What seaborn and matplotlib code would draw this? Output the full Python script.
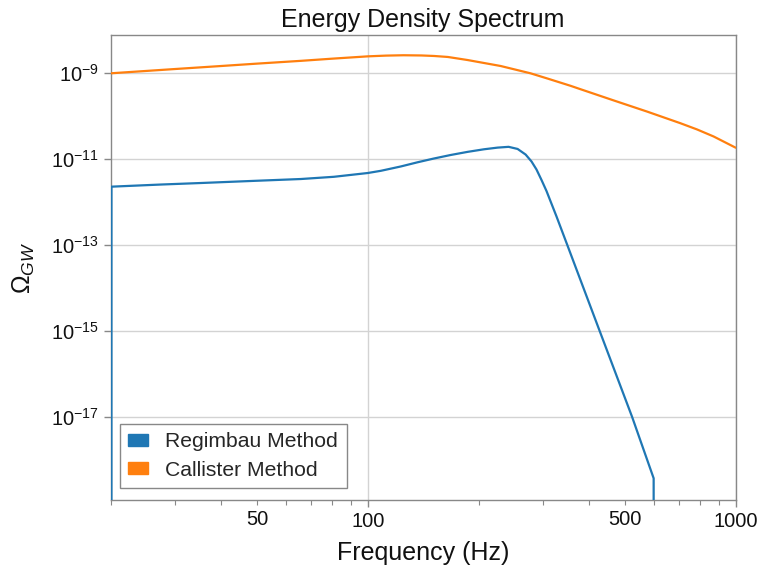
import numpy as np
import pandas as pd
import matplotlib
matplotlib.use("Agg")
import matplotlib.pyplot as plt
from matplotlib.patches import Patch
from matplotlib.ticker import FixedLocator, FixedFormatter, NullLocator, LogFormatterSciNotation
import seaborn as sns

# ---- data ----
regimbau_freq = [20.1, 20.1, 27.4, 35.2, 48.1, 65.8, 80.9, 100, 108.5, 122.9, 136.4, 151.0,
                 168.0, 186.8, 206.9, 225.3, 241.4, 255.4, 268.5, 278.6, 287.4, 296.6,
                 306.0, 325.8, 349.4, 427.5, 522.9, 598.4, 598.6]
regimbau_omega = [0, 2.31e-12, 2.59e-12, 2.81e-12, 3.13e-12, 3.48e-12, 3.92e-12, 4.80e-12,
                  5.40e-12, 6.81e-12, 8.51e-12, 1.04e-11, 1.26e-11, 1.49e-11, 1.71e-11,
                  1.87e-11, 1.95e-11, 1.74e-11, 1.29e-11, 8.9e-12, 5.8e-12, 3.3e-12,
                  1.83e-12, 4.68e-13, 9.6e-14, 9.8e-16, 1.02e-17, 3.81e-19, 0]

callister_freq = [20, 30, 40, 50, 65.8, 80, 100, 112, 125, 140, 151.4, 165, 186.5, 229.6,
                  276.9, 307.4, 355.5, 378.5, 466, 574, 707, 785, 870.6, 1000]
callister_omega = [1.0e-9, 1.26e-9, 1.48e-9, 1.68e-9, 1.95e-9, 2.19e-9, 2.48e-9, 2.58e-9,
                   2.63e-9, 2.60e-9, 2.53e-9, 2.40e-9, 2.04e-9, 1.48e-9, 1.0e-9, 7.59e-10,
                   5.13e-10, 4.27e-10, 2.34e-10, 1.29e-10, 6.92e-11, 4.95e-11, 3.40e-11,
                   1.86e-11]

series_names = ["Regimbau Method", "Callister Method"]
series_colors = ["#1f77b4", "#ff7f0e"]

x_major = [100, 1000]
x_minor = [20, 30, 40, 50, 60, 70, 80, 90, 200, 300, 400, 500, 600, 700, 800, 900]
x_minor_labels = ["", "", "", "50", "", "", "", "", "", "", "", "500", "", "", "", ""]
y_ticks = [1e-17, 1e-15, 1e-13, 1e-11, 1e-9]

# ---- build table ----
df = pd.concat([
    pd.DataFrame({"f": regimbau_freq, "omega": regimbau_omega, "method": series_names[0]}),
    pd.DataFrame({"f": callister_freq, "omega": callister_omega, "method": series_names[1]}),
], ignore_index=True)

sns.set_theme(style="ticks")
plt.rcParams["font.family"] = ["Liberation Sans", "DejaVu Sans"]
plt.rcParams["mathtext.fontset"] = "custom"
plt.rcParams["mathtext.rm"] = "Liberation Sans"
plt.rcParams["mathtext.it"] = "Liberation Sans:italic"
plt.rcParams["mathtext.bf"] = "Liberation Sans:bold"
plt.rcParams["axes.unicode_minus"] = True

fig = plt.figure(figsize=(7.59, 5.71), dpi=100)
ax = fig.add_axes([0.1458, 0.1243, 0.8235, 0.8144])

sns.lineplot(data=df, x="f", y="omega", hue="method", palette=series_colors,
             estimator=None, sort=False, units="method", linewidth=1.6, ax=ax, legend=False)
for ln in ax.get_lines():
    ln.set_zorder(3)

ax.set_xscale("log")
ax.set_yscale("log")
ax.set_xlim(20, 1000)
ax.set_ylim(1.19e-19, 7.78e-9)

ax.xaxis.set_major_locator(FixedLocator(x_major))
ax.xaxis.set_major_formatter(FixedFormatter([str(v) for v in x_major]))
ax.xaxis.set_minor_locator(FixedLocator(x_minor))
ax.xaxis.set_minor_formatter(FixedFormatter(x_minor_labels))
ax.yaxis.set_major_locator(FixedLocator(y_ticks))
ax.yaxis.set_major_formatter(LogFormatterSciNotation())
ax.yaxis.set_minor_locator(NullLocator())

spine_col = "#888888"
for s in ax.spines.values():
    s.set_color(spine_col)
    s.set_linewidth(1.0)
ax.tick_params(axis="both", which="major", length=5, width=1, color=spine_col,
               labelsize=14.5, labelcolor="#111111", direction="out")
ax.tick_params(axis="x", which="minor", length=3.5, width=0.8, color=spine_col,
               labelsize=14.5, labelcolor="#111111")
ax.grid(True, which="major", color="#d3d3d3", linewidth=1.0)
ax.set_axisbelow(True)

ax.set_title("Energy Density Spectrum", fontsize=18, color="#111111", pad=6)
ax.set_xlabel("Frequency (Hz)", fontsize=18, color="#111111", labelpad=7)
ax.set_ylabel(r"$\Omega_{GW}$", fontsize=18, color="#111111", labelpad=10)

handles = [Patch(facecolor=c, edgecolor=c, label=n) for n, c in zip(series_names, series_colors)]
leg = ax.legend(handles=handles, loc="lower left", fontsize=15.2, frameon=True, fancybox=False,
                edgecolor="#888888", framealpha=1.0, borderpad=0.4, handlelength=0.95,
                handleheight=0.5, handletextpad=0.8, labelspacing=0.45, borderaxespad=0,
                bbox_to_anchor=(0.0149, 0.0258))
leg.get_frame().set_linewidth(1.0)

fig.savefig("out.png", dpi=100)
